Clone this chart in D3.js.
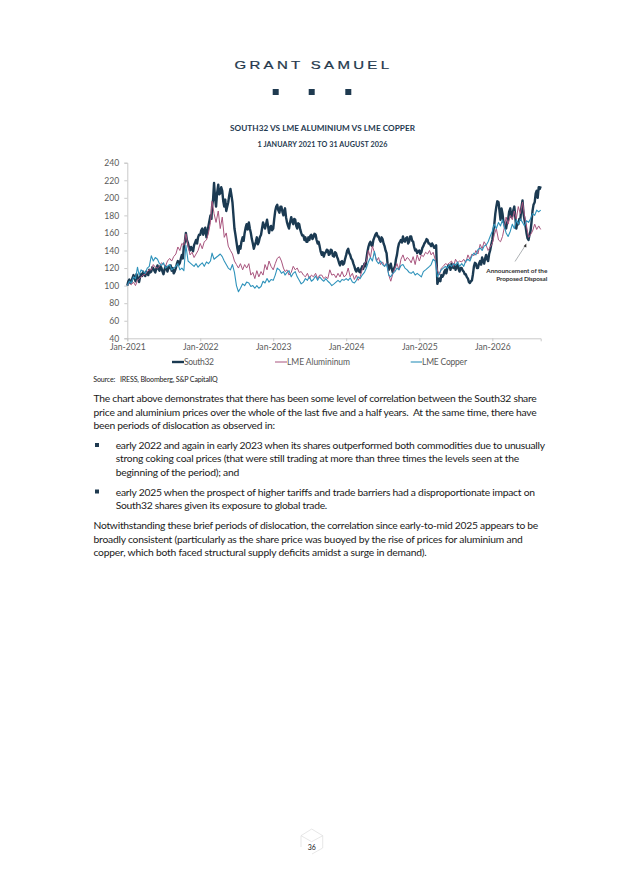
<!DOCTYPE html>
<html><head><meta charset="utf-8">
<script src="https://cdn.jsdelivr.net/npm/d3@7/dist/d3.min.js"></script>
<style>html,body{margin:0;padding:0;background:#fff}svg{display:block}text{white-space:pre}</style>
</head><body><svg id="c" width="623" height="880"></svg>
<script>
// South32 is read every five days, the two LME series every ten days; all end 31 Aug 2026
const fineDays = [1, 6, 11, 16, 21, 26];
const coarseDays = [1, 11, 21];
const south32 = [
 100,105,107,103,104,108, 112,109,105,113,110,107, 104,110,113,111,116,113, 111,116,114,112,118,115, 116,121,120,117,115,119, 123,119,117,122,120,116,
 113,118,122,119,116,121, 120,123,117,120,114,116, 120,125,128,124,126,131, 135,131,145,150,160,152, 148,143,140,144,142,139, 146,149,152,148,155,158,
 158,163,165,158,162,166, 155,161,168,174,180,176, 190,198,217,200,190,205, 215,204,205,212,208,196, 190,198,185,190,195,203, 210,203,195,180,165,158,
 150,142,137,145,142,150, 155,151,160,166,170,164, 172,165,160,153,148,142, 146,150,155,147,150,155, 158,165,172,168,165,170, 175,168,160,166,168,163,
 165,176,185,190,192,186, 183,190,190,184,180,186, 188,178,172,168,165,172, 178,173,170,176,175,168, 165,171,170,164,160,157, 157,152,155,150,150,155,
 152,157,158,153,155,159, 158,152,148,150,145,139, 135,138,133,137,138,141, 140,135,136,141,140,134, 133,138,137,133,130,126, 123,127,128,124,125,130,
 135,140,142,137,135,131, 129,125,122,118,116,119, 120,116,115,119,122,119, 125,122,130,138,144,148, 150,146,145,152,155,158, 160,156,156,152,150,155,
 153,148,145,140,137,125, 118,122,125,119,115,119, 122,130,135,143,148,150, 152,149,156,151,150,154, 155,148,150,156,156,151, 150,144,140,141,137,139,
 140,136,138,143,145,148, 150,153,152,148,148,146, 145,148,146,143,144,146, 102,106,108,105,112,110, 112,116,118,114,120,123, 122,118,125,121,120,124,
 118,122,124,119,116,120, 120,117,116,113,113,110, 108,104,103,105,106,113, 122,126,125,120,120,125, 128,124,132,128,125,131, 135,130,128,136,140,146,
 152,162,170,182,190,196, 195,185,175,188,182,172, 172,166,165,172,175,184, 188,178,180,186,190,178, 165,172,170,176,175,188, 197,182,175,168,160,154,
 152,158,162,172,185,192, 195,205,208,200,212,210, 213];
const aluminium = [
 100,103,101, 104,100,106, 108,110,112, 113,116,118, 118,124,121, 120,122,126, 124,122,128, 131,128,133, 136,144,140, 148,146,159, 145,135,138, 132,136,140,
 148,142,150, 152,160,172, 196,182,172, 185,165,178, 155,160,145, 140,136,128, 124,120,125, 118,124,120, 125,112,115, 108,117,110, 116,112,124, 118,128,122,
 118,125,131, 133,128,120, 116,118,112, 115,122,118, 120,115,116, 112,110,114, 108,112,110, 114,108,112, 112,108,110, 108,118,112, 113,109,114, 110,116,110,
 112,120,110, 114,107,112, 106,110,118, 125,128,140, 132,145,138, 128,132,124, 127,122,126, 112,105,113, 120,125,118, 130,135,128, 132,130,126, 133,124,135,
 128,135,133, 138,136,140, 135,138,130, 118,112,120, 122,125,124, 126,128,122, 130,126,128, 127,130,126, 135,130,136, 134,140,136, 147,142,150, 146,140,144,
 148,158,165, 152,150,156, 165,178,170, 180,175,185, 176,190,182, 195,180,168, 155,158,162, 170,164,168, 164];
const copper = [
 100,105,103, 110,108,121, 112,118,116, 114,120,122, 134,128,132, 130,125,123, 126,120,122, 124,118,120, 122,125,118, 120,117,146, 128,126,124, 122,125,121,
 124,126,122, 127,125,128, 137,130,132, 134,136,133, 128,124,120, 118,124,115, 100,93,97, 102,100,104, 103,99,100, 97,100,97, 99,105,103, 108,104,107,
 106,112,120, 118,114,116, 112,115,117, 110,114,116, 110,106,102, 104,108,106, 110,105,107, 111,106,110, 107,105,108, 105,103,100, 102,104,106, 104,107,106,
 108,106,109, 104,103,106, 110,108,112, 115,120,127, 132,128,139, 128,125,128, 124,122,125, 112,110,114, 116,120,118, 123,124,120, 118,115,114, 116,112,114,
 112,110,116, 118,120,122, 124,130,128, 110,114,118, 120,122,120, 124,122,125, 123,127,122, 125,122,128, 130,128,134, 137,135,141, 143,140,145, 146,150,156,
 162,170,165, 172,168,175, 168,160,156, 162,170,165, 175,170,176, 172,168,174, 172,176,182, 180,186,184, 186];
const yTicks = [40,60,80,100,120,140,160,180,200,220,240];
const xTickYears = [2021,2022,2023,2024,2025,2026];
const seriesNames = ["South32","LME Alumininum","LME Copper"];
const seriesColors = ["#1b3a52","#a9557e","#2f93bb"];
const bodyIntro = ["The chart above demonstrates that there has been some level of correlation between the South32 share",
 "price and aluminium prices over the whole of the last five and a half years.  At the same time, there have",
 "been periods of dislocation as observed in:"];
const bullet1 = ["early 2022 and again in early 2023 when its shares outperformed both commodities due to unusually",
 "strong coking coal prices (that were still trading at more than three times the levels seen at the",
 "beginning of the period); and"];
const bullet2 = ["early 2025 when the prospect of higher tariffs and trade barriers had a disproportionate impact on",
 "South32 shares given its exposure to global trade."];
const bodyOutro = ["Notwithstanding these brief periods of dislocation, the correlation since early-to-mid 2025 appears to be",
 "broadly consistent (particularly as the share price was buoyed by the rise of prices for aluminium and",
 "copper, which both faced structural supply deficits amidst a surge in demand)."];

function buildDates(days){
  const out = [];
  for (let y = 2021; y <= 2026; y++) for (let m = 0; m < (y === 2026 ? 8 : 12); m++)
    days.forEach(d => out.push(new Date(Date.UTC(y, m, d))));
  out.push(new Date(Date.UTC(2026, 7, 31)));
  return out;
}
const fineDates = buildDates(fineDays), coarseDates = buildDates(coarseDays);

const FONT = "Lato, 'Open Sans', sans-serif";
const svg = d3.select("#c").style("font-family", FONT);
const x = d3.scaleUtc().domain([coarseDates[0], coarseDates[coarseDates.length-1]]).range([127.3, 540.7]);
const y = d3.scaleLinear().domain([40,240]).range([338.3, 162.7]);

// header
svg.append("text").attr("transform","translate(234.5,69.2) scale(1.5,1)")
  .attr("font-family","'Liberation Sans', sans-serif").attr("font-size",10).attr("textLength",103).attr("lengthAdjust","spacing")
  .attr("fill","#24384c").attr("stroke","#24384c").attr("stroke-width",0.2).text("GRANT SAMUEL");
[275.7,311.7,348.3].forEach(cx => svg.append("rect").attr("x",cx-3).attr("y",89).attr("width",6).attr("height",6).attr("fill","#1f3a50"));
svg.append("text").attr("x",322.5).attr("y",130.8).attr("text-anchor","middle").attr("font-size",8.2).attr("textLength",185).attr("font-weight",700).attr("fill","#1f3a50").text("SOUTH32 VS LME ALUMINIUM VS LME COPPER");
svg.append("text").attr("x",322.5).attr("y",147.4).attr("text-anchor","middle").attr("font-size",7.2).attr("textLength",130).attr("font-weight",700).attr("fill","#1f3a50").text("1 JANUARY 2021 TO 31 AUGUST 2026");

// axes
const gy = svg.append("g").attr("transform","translate(127.3,0)").call(d3.axisLeft(y).tickValues(yTicks).tickSize(3).tickPadding(5));
const gx = svg.append("g").attr("transform","translate(0,338.3)").call(d3.axisBottom(x).tickValues(xTickYears.map(v=>new Date(Date.UTC(v,0,1)))).tickFormat(d3.utcFormat("%b-%Y")).tickSize(3).tickPadding(3));
[gx,gy].forEach(g=>{g.selectAll("path,line").attr("stroke","#c4c4c4").attr("stroke-width",0.9);
  g.selectAll("text").attr("fill","#595959").attr("font-size",8.6).attr("font-family",FONT);});

// series
const lineOn = ds => d3.line().x((d,i)=>x(ds[i])).y(d=>y(d));
[[south32,fineDates],[aluminium,coarseDates],[copper,coarseDates]].forEach((s,i)=>svg.append("path").datum(s[0]).attr("d",lineOn(s[1])).attr("fill","none")
  .attr("stroke",seriesColors[i]).attr("stroke-width",[2.4,1,1.1][i]).attr("stroke-linejoin","round"));

// annotation
svg.append("line").attr("x1",515).attr("y1",261.5).attr("x2",525).attr("y2",246).attr("stroke","#8a8f94").attr("stroke-width",0.7);
svg.append("path").attr("d","M526.3,243.5 L523.6,246.2 L526.3,247.6 Z").attr("fill","#333");
[["Announcement of the",61],["Proposed Disposal",51]].forEach((t,i)=>svg.append("text").attr("x",547.3).attr("y",272.6+i*8.4)
  .attr("text-anchor","end").attr("font-size",6.4).attr("textLength",t[1]).attr("font-weight",700).attr("fill","#333").text(t[0]));

// legend
[[172,184,30],[275,287,63],[410.7,422,45]].forEach((p,i)=>{
  svg.append("line").attr("x1",p[0]).attr("x2",p[1]).attr("y1",362).attr("y2",362).attr("stroke",seriesColors[i]).attr("stroke-width",[2.4,1,1.1][i]);
  svg.append("text").attr("x",p[1]).attr("y",365.2).attr("font-size",8.5).attr("textLength",p[2]).attr("fill","#595959").text(seriesNames[i]);
});

// body
svg.append("text").attr("x",93.3).attr("y",382).attr("font-size",7.1).attr("textLength",124.4).attr("fill","#222").text("Source:   IRESS, Bloomberg, S&P CapitalIQ");
const para = (arr,xp,ys,ws)=>arr.forEach((t,i)=>svg.append("text").attr("x",xp).attr("y",ys[i]).attr("font-size",10.3).attr("textLength",ws[i]).attr("lengthAdjust","spacing").attr("fill","#1a1a1a").text(t));
para(bodyIntro,93.5,[402,415.5,429],[443.2,443.2,181.5]);
para(bullet1,115.7,[449,462.3,475.8],[429.3,403.6,123.6]);
para(bullet2,115.7,[496,509.3],[419.3,211.6]);
para(bodyOutro,93.5,[529,542.5,556],[444.8,429.2,333.2]);
[445,491.5].forEach(cy=>svg.append("rect").attr("x",95).attr("y",cy-2).attr("width",4).attr("height",4).attr("fill","#1f3a50"));

// footer
svg.append("path").attr("d","M301,835.7 L311.7,829 L322.7,835.7 L322.7,848 L312,854 M301,835.7 L301,847 M301,835.7 L311.7,841.7 L322.7,835.7")
  .attr("fill","none").attr("stroke","#dcdcdc").attr("stroke-width",0.7);
svg.append("text").attr("x",311.7).attr("y",849.5).attr("text-anchor","middle").attr("font-size",7).attr("fill","#222").text("36");
</script></body></html>
